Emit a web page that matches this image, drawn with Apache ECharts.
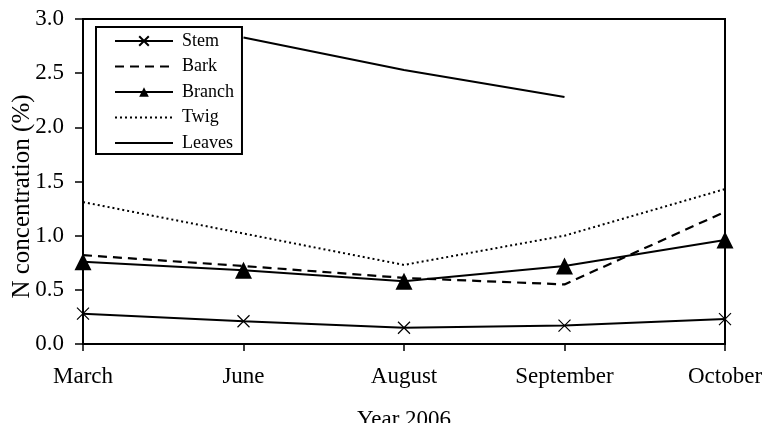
<!DOCTYPE html>
<html lang="en">
<head>
  <meta charset="UTF-8">
  <title>N concentration</title>
  <script src="https://cdn.jsdelivr.net/npm/echarts@6/dist/echarts.min.js"></script>
  <style>body{margin:0;background:#fff}</style>
</head>
<body>
  <div id="chart" style="width:765px;height:423px;"></div>
  <script>
    var months = ['March', 'June', 'August', 'September', 'October'];
    var stem = [0.28, 0.21, 0.15, 0.17, 0.23];
    var bark = [0.82, 0.72, 0.61, 0.55, 1.22];
    var branch = [0.76, 0.68, 0.58, 0.72, 0.96];
    var twig = [1.31, 1.02, 0.73, 1.00, 1.43];
    var leaves = ['-', 2.83, 2.53, 2.28, '-'];

    var font = 'Liberation Serif';
    var myChart = echarts.init(document.getElementById('chart'));

    // line-only series: hide the dot in the legend icon
    var noDot = {opacity: 0};

    var options = {
      animation: false,
      textStyle: {fontFamily: font, color: '#000'},
      grid: {
        left: 83, right: 40, top: 19, bottom: 79,
        outerBoundsMode: 'none',
        containLabel: false,
        show: true, borderColor: '#000', borderWidth: 2
      },
      legend: {
        orient: 'vertical',
        left: 96, top: 27,
        padding: [5, 8, 2, 18],
        borderColor: '#000', borderWidth: 2,
        backgroundColor: '#fff',
        itemWidth: 58, itemHeight: 12,
        itemGap: 7.5,
        textStyle: {fontFamily: font, fontSize: 18, color: '#000', padding: [0, 0, 0, 4]},
        data: [
          {name: 'Stem'},
          {name: 'Bark', itemStyle: noDot},
          {name: 'Branch'},
          {name: 'Twig', itemStyle: noDot},
          {name: 'Leaves', itemStyle: noDot}
        ]
      },
      xAxis: {
        type: 'category',
        data: months,
        boundaryGap: false,
        name: 'Year 2006',
        nameLocation: 'middle',
        nameMoveOverlap: false,
        nameGap: 64,
        nameTextStyle: {fontFamily: font, fontSize: 23, color: '#000'},
        axisLine: {lineStyle: {color: '#000', width: 2}},
        axisTick: {show: true, length: 7, lineStyle: {color: '#000', width: 1.5}},
        axisLabel: {fontFamily: font, fontSize: 23, color: '#000', margin: 21},
        splitLine: {show: false}
      },
      yAxis: {
        type: 'value',
        min: 0, max: 3, interval: 0.5,
        name: 'N concentration (%)',
        nameLocation: 'middle',
        nameMoveOverlap: false,
        nameGap: 48,
        nameTextStyle: {fontFamily: font, fontSize: 25, color: '#000', padding: [0, 30, 0, 0]},
        axisLine: {show: true, lineStyle: {color: '#000', width: 2}},
        axisTick: {show: true, length: 8, lineStyle: {color: '#000', width: 1.5}},
        axisLabel: {
          fontFamily: font, fontSize: 23, color: '#000', margin: 19,
          formatter: function (v) { return v.toFixed(1); }
        },
        splitLine: {show: false}
      },
      series: [
        {
          name: 'Stem', type: 'line', data: stem,
          symbol: 'path://M0,0L10,10M10,0L0,10', symbolSize: 12,
          itemStyle: {color: 'none', borderColor: '#000', borderWidth: 1.2},
          lineStyle: {color: '#000', width: 2}
        },
        {
          name: 'Bark', type: 'line', data: bark, symbol: 'none',
          itemStyle: {color: '#000'},
          lineStyle: {color: '#000', width: 2.2, type: [9, 6]}
        },
        {
          name: 'Branch', type: 'line', data: branch,
          symbol: 'triangle', symbolSize: 17,
          itemStyle: {color: '#000'},
          lineStyle: {color: '#000', width: 2}
        },
        {
          name: 'Twig', type: 'line', data: twig, symbol: 'none',
          itemStyle: {color: '#000'},
          lineStyle: {color: '#000', width: 2, type: [2, 3]}
        },
        {
          name: 'Leaves', type: 'line', data: leaves, symbol: 'none',
          itemStyle: {color: '#000'},
          lineStyle: {color: '#000', width: 2}
        }
      ]
    };

    myChart.setOption(options);
  </script>
</body>
</html>
